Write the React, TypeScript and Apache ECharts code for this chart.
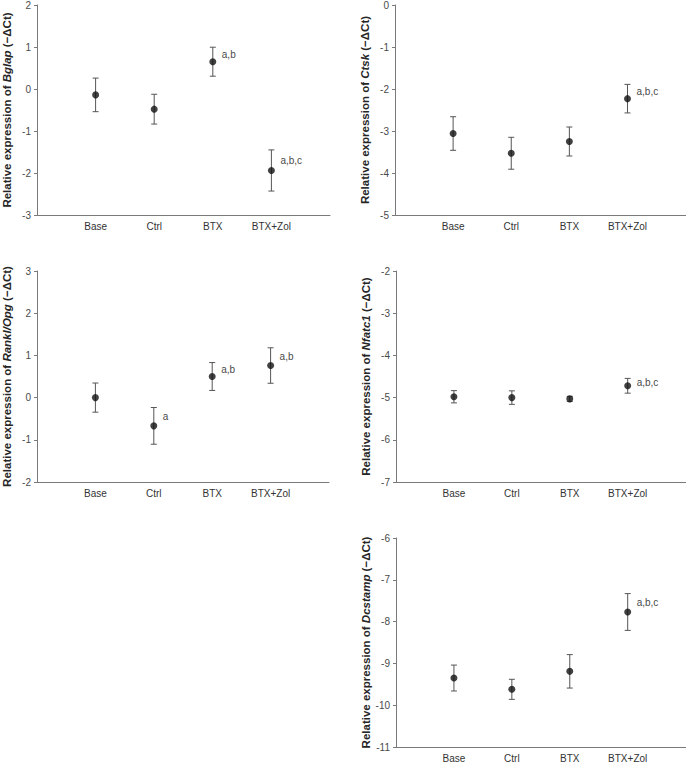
import React, { useEffect, useRef } from "react";
import * as echarts from "echarts";

const groups = ["Base", "Ctrl", "BTX", "BTX+Zol"];

const bglapMean = [-0.14, -0.48, 0.65, -1.94];
const bglapErr = [0.4, 0.355, 0.345, 0.49];
const bglapSig = ["", "", "a,b", "a,b,c"];

const ctskMean = [-3.06, -3.53, -3.25, -2.23];
const ctskErr = [0.4, 0.38, 0.345, 0.34];
const ctskSig = ["", "", "", "a,b,c"];

const ranklMean = [0.0, -0.67, 0.5, 0.76];
const ranklErr = [0.345, 0.435, 0.33, 0.42];
const ranklSig = ["", "a", "a,b", "a,b"];

const nfatc1Mean = [-4.98, -5.0, -5.03, -4.72];
const nfatc1Err = [0.145, 0.16, 0.06, 0.175];
const nfatc1Sig = ["", "", "", "a,b,c"];

const dcstampMean = [-9.35, -9.62, -9.19, -7.77];
const dcstampErr = [0.31, 0.24, 0.4, 0.44];
const dcstampSig = ["", "", "", "a,b,c"];

const panels = [
  { gene: "Bglap", mean: bglapMean, err: bglapErr, sig: bglapSig, min: -3, max: 2, grid: { left: 33, top: 4, width: 297, height: 211 } },
  { gene: "Ctsk", mean: ctskMean, err: ctskErr, sig: ctskSig, min: -5, max: 0, grid: { left: 395, top: 4, width: 294, height: 211 } },
  { gene: "Rankl/Opg", mean: ranklMean, err: ranklErr, sig: ranklSig, min: -2, max: 3, grid: { left: 35, top: 271, width: 294, height: 211 } },
  { gene: "Nfatc1", mean: nfatc1Mean, err: nfatc1Err, sig: nfatc1Sig, min: -7, max: -2, grid: { left: 396, top: 271, width: 293, height: 211 } },
  { gene: "Dcstamp", mean: dcstampMean, err: dcstampErr, sig: dcstampSig, min: -11, max: -6, grid: { left: 396, top: 538, width: 293, height: 211 } },
];

const FONT = "'Liberation Sans', Arial, Helvetica, sans-serif";
const AXIS_COLOR = "#7a7a7a";
const TEXT_COLOR = "#4a4a4a";

export default function App() {
  const ref = useRef<HTMLDivElement>(null);

  useEffect(() => {
    if (!ref.current) return;
    const chart = echarts.init(ref.current, null, { renderer: "svg" });

    const grids: any[] = [];
    const xAxes: any[] = [];
    const yAxes: any[] = [];
    const series: any[] = [];

    panels.forEach((p, k) => {
      grids.push({ ...p.grid, containLabel: false });
      xAxes.push({
        type: "category",
        gridIndex: k,
        data: ["", ...groups, " "],
        boundaryGap: false,
        axisLine: { show: true, onZero: false, lineStyle: { color: AXIS_COLOR, width: 1 } },
        axisTick: { show: false },
        axisLabel: { color: "#333", fontSize: 10, fontFamily: FONT, margin: 6, interval: 0 },
        splitLine: { show: false },
      });
      yAxes.push({
        type: "value",
        gridIndex: k,
        min: p.min,
        max: p.max,
        interval: 1,
        axisLine: { show: true, onZero: false, lineStyle: { color: AXIS_COLOR, width: 1 } },
        axisTick: { show: true, inside: false, length: 3, lineStyle: { color: AXIS_COLOR } },
        axisLabel: { color: TEXT_COLOR, fontSize: 10, fontFamily: FONT, margin: 6 },
        splitLine: { show: false },
        name: `{b|Relative expression of }{i|${p.gene}}{b| (−ΔCt)}`,
        nameLocation: "middle",
        nameRotate: 90,
        nameGap: 24,
        nameTextStyle: {
          rich: {
            b: { fontSize: 11.5, fontWeight: "bold", fontFamily: FONT, color: "#262626" },
            i: { fontSize: 11.5, fontWeight: "bold", fontStyle: "italic", fontFamily: FONT, color: "#262626" },
          },
        },
      });

      const errData = p.mean.map((m, i) => [i + 1, m - p.err[i], m + p.err[i], m]);
      series.push({
        type: "custom",
        xAxisIndex: k,
        yAxisIndex: k,
        data: errData,
        z: 2,
        renderItem: (params: any, api: any) => {
          const x = api.value(0);
          const lo = api.coord([x, api.value(1)]);
          const hi = api.coord([x, api.value(2)]);
          const mid = api.coord([x, (api.value(2) + api.value(3)) / 2]);
          const cap = 3;
          const style = { stroke: "#555", lineWidth: 1, fill: null };
          const children: any[] = [
            { type: "line", shape: { x1: hi[0], y1: hi[1], x2: lo[0], y2: lo[1] }, style },
            { type: "line", shape: { x1: hi[0] - cap, y1: hi[1], x2: hi[0] + cap, y2: hi[1] }, style },
            { type: "line", shape: { x1: lo[0] - cap, y1: lo[1], x2: lo[0] + cap, y2: lo[1] }, style },
          ];
          const sig = p.sig[params.dataIndex];
          if (sig) {
            children.push({
              type: "text",
              style: {
                text: sig,
                x: mid[0] + 9,
                y: mid[1],
                fill: TEXT_COLOR,
                fontSize: 10,
                fontFamily: FONT,
                align: "left",
                verticalAlign: "middle",
              },
            });
          }
          return { type: "group", children };
        },
      });
      series.push({
        type: "scatter",
        xAxisIndex: k,
        yAxisIndex: k,
        data: p.mean.map((m, i) => [i + 1, m]),
        symbol: "circle",
        symbolSize: 7,
        itemStyle: { color: "#111" },
        z: 3,
      });
    });

    chart.setOption({
      animation: false,
      backgroundColor: "#ffffff",
      grid: grids,
      xAxis: xAxes,
      yAxis: yAxes,
      series,
    });

    return () => chart.dispose();
  }, []);

  return (
    <div
      ref={ref}
      style={{ position: "fixed", left: 0, top: 0, width: 690, height: 763, background: "#fff" }}
    />
  );
}
